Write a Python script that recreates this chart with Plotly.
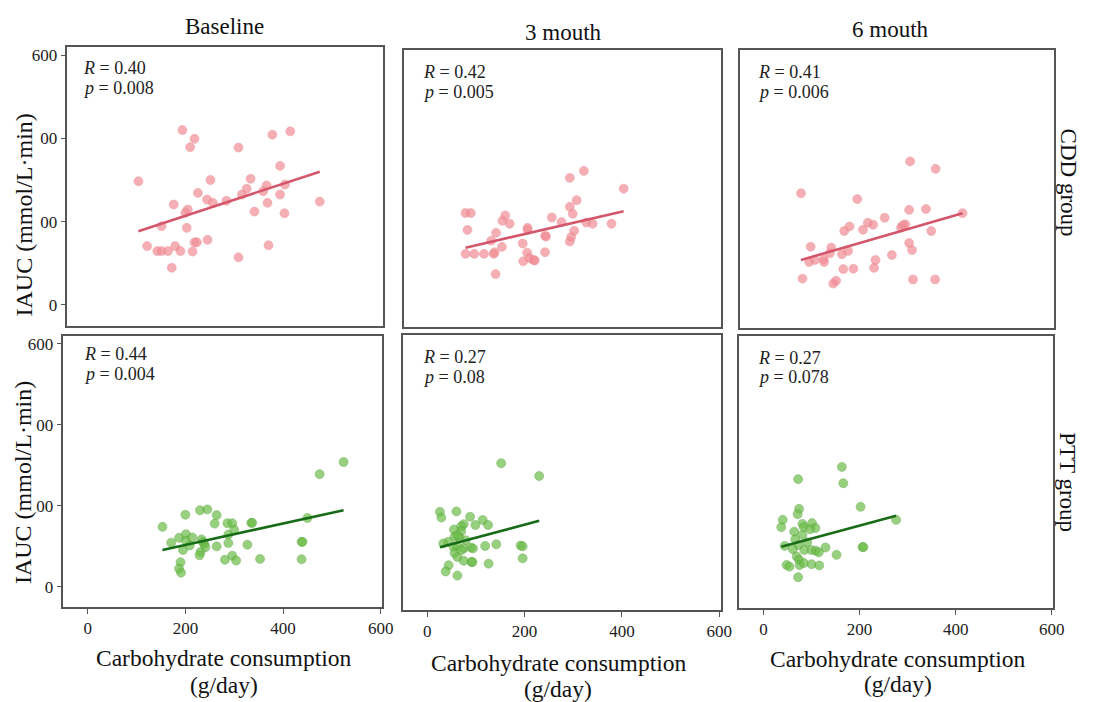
import plotly.graph_objects as go

W, H = 1093, 702

# ---------------- data ----------------
col_titles = ["Baseline", "3 mouth", "6 mouth"]
row_titles = ["CDD group", "PTT group"]
y_title = "IAUC (mmol/L·min)"
x_title = "Carbohydrate consumption"
x_unit = "(g/day)"
x_ticks = [0, 200, 400, 600]
x_tick_labels = ["0", "200", "400", "600"]
y_ticks = [0, 200, 400, 600]
y_tick_labels = ["0", "00", "00", "600"]

cdd_base_x = [97, 188, 213, 204, 304, 374, 411, 390, 246, 329, 220, 321, 362, 400, 239, 251, 279, 311, 355, 390,
              472, 170, 199, 194, 364, 337, 399, 145, 197, 115, 136, 145, 158, 173, 184, 209, 213, 218, 240, 304,
              366, 166]
cdd_base_y = [297, 420, 399, 379, 378, 409, 417, 334, 300, 303, 269, 279, 287, 289, 253, 245, 250, 265, 273, 265,
              248, 241, 229, 221, 245, 224, 220, 189, 185, 141, 129, 129, 129, 141, 129, 128, 150, 150, 156, 114,
              143, 89]
cdd_base_fit_x = [97, 472]
cdd_base_fit_y = [177, 320]

cdd_3m_x = [77, 88, 81, 77, 95, 115, 135, 137, 139, 130, 140, 153, 159, 168, 152, 205, 205, 195, 204, 196,
            209, 217, 220, 241, 241, 243, 255, 275, 292, 321, 306, 292, 298, 301, 295, 292, 326, 339, 378, 403]
cdd_3m_y = [225, 225, 184, 126, 126, 126, 126, 130, 77, 158, 177, 206, 219, 199, 143, 189, 184, 151, 129, 108,
            116, 111, 110, 130, 170, 168, 214, 203, 310, 327, 256, 240, 223, 182, 167, 156, 202, 199, 199, 284]
cdd_3m_fit_x = [77, 403]
cdd_3m_fit_y = [141, 229]

cdd_6m_x = [76, 79, 96, 93, 105, 123, 124, 136, 139, 143, 149, 161, 164, 166, 177, 174, 185, 193, 205, 215,
            226, 228, 231, 250, 265, 284, 293, 288, 301, 303, 301, 307, 309, 336, 347, 356, 355, 412]
cdd_6m_y = [274, 68, 145, 108, 113, 115, 108, 129, 143, 56, 63, 127, 91, 183, 194, 135, 92, 260, 186, 203,
            198, 94, 113, 215, 125, 191, 199, 197, 234, 351, 154, 137, 66, 236, 183, 333, 66, 226]
cdd_6m_fit_x = [76, 412]
cdd_6m_fit_y = [113, 226]

ptt_base_x = [153, 171, 187, 200, 201, 201, 195, 190, 187, 191, 209, 214, 230, 245, 264, 260, 233, 239, 236, 231,
              229, 264, 286, 296, 288, 300, 288, 281, 296, 304, 327, 335, 337, 353, 438, 440, 438, 450, 475, 524,
              241]
ptt_base_y = [148, 109, 121, 178, 130, 114, 91, 61, 45, 35, 102, 122, 189, 191, 177, 156, 117, 106, 110, 86,
              78, 100, 157, 157, 129, 141, 108, 67, 77, 65, 104, 158, 158, 69, 111, 111, 68, 170, 278, 308,
              98]
ptt_base_fit_x = [153, 524]
ptt_base_fit_y = [91, 189]

ptt_3m_x = [26, 29, 60, 88, 114, 125, 99, 75, 70, 55, 70, 56, 66, 79, 43, 33, 54, 62, 75, 90,
            94, 119, 142, 192, 196, 196, 56, 62, 75, 91, 93, 126, 44, 38, 62, 152, 230, 70, 62]
ptt_3m_y = [189, 175, 190, 177, 169, 157, 157, 159, 154, 146, 142, 128, 126, 120, 116, 112, 104, 105, 100, 102,
            100, 106, 110, 107, 105, 76, 89, 79, 70, 67, 67, 63, 59, 44, 34, 307, 276, 96, 132]
ptt_3m_fit_x = [26, 230]
ptt_3m_fit_y = [103, 167]

ptt_6m_x = [40, 37, 44, 48, 54, 72, 74, 71, 64, 81, 84, 101, 108, 97, 81, 66, 91, 73, 61, 69,
            74, 75, 84, 85, 100, 116, 72, 100, 109, 115, 129, 152, 163, 166, 202, 206, 208, 276]
ptt_6m_y = [167, 149, 103, 56, 52, 267, 194, 181, 138, 157, 149, 159, 147, 144, 130, 119, 112, 105, 95, 77,
            69, 56, 61, 93, 58, 55, 26, 93, 91, 87, 99, 81, 297, 257, 199, 100, 100, 167]
ptt_6m_fit_x = [37, 276]
ptt_6m_fit_y = [101, 177]

r_values = ["0.40", "0.42", "0.41", "0.44", "0.27", "0.27"]
p_values = ["0.008", "0.005", "0.006", "0.004", "0.08", "0.078"]

# ---------------- layout geometry (pixel boxes) ----------------
boxes = [  # (left, right, top, bottom) in pixels
    (68, 387, 46, 325), (408, 728, 49, 326), (748, 1065, 49, 327),
    (64, 386, 335, 607), (407, 728, 334, 610), (747, 1064, 335, 608),
]
stat_pos = [(82, 67, 87), (425, 71, 91), (764, 71, 91),
            (83, 354, 374), (425, 357, 377), (764, 358, 377)]

panels = [
    (cdd_base_x, cdd_base_y, cdd_base_fit_x, cdd_base_fit_y),
    (cdd_3m_x, cdd_3m_y, cdd_3m_fit_x, cdd_3m_fit_y),
    (cdd_6m_x, cdd_6m_y, cdd_6m_fit_x, cdd_6m_fit_y),
    (ptt_base_x, ptt_base_y, ptt_base_fit_x, ptt_base_fit_y),
    (ptt_3m_x, ptt_3m_y, ptt_3m_fit_x, ptt_3m_fit_y),
    (ptt_6m_x, ptt_6m_y, ptt_6m_fit_x, ptt_6m_fit_y),
]

FONT = "Liberation Serif"
BORDER = "#555555"
pink_fill, pink_edge, pink_line = "#f28c94", "#e58089", "#d4566b"
green_fill, green_edge, green_line = "#6cbd48", "#4e9a30", "#186c18"

def px(x):
    return x / W

def py(y):
    return 1 - y / H

fig = go.Figure()
layout = {}
for i, ((xs, ys, fx, fy), (l, r, t, b)) in enumerate(zip(panels, boxes)):
    n = i + 1
    xa = "xaxis" if n == 1 else f"xaxis{n}"
    ya = "yaxis" if n == 1 else f"yaxis{n}"
    xref = "x" if n == 1 else f"x{n}"
    yref = "y" if n == 1 else f"y{n}"
    cdd = i < 3
    fill, edge, lc = (pink_fill, pink_edge, pink_line) if cdd else (green_fill, green_edge, green_line)
    fig.add_trace(go.Scatter(x=xs, y=ys, mode="markers", xaxis=xref, yaxis=yref,
                             marker=dict(size=9, color=fill, opacity=0.7,
                                         line=dict(color=edge, width=0.6)),
                             showlegend=False, hoverinfo="x+y"))
    fig.add_trace(go.Scatter(x=fx, y=fy, mode="lines", xaxis=xref, yaxis=yref,
                             line=dict(color=lc, width=2.6), showlegend=False))
    bottom_row = i >= 3
    left_col = i % 3 == 0
    layout[xa] = dict(domain=[px(l), px(r)], range=[-50, 603], anchor=yref,
                      showgrid=False, zeroline=False, showline=True, mirror=True,
                      linecolor=BORDER, linewidth=1.5,
                      ticks="outside" if bottom_row else "", ticklen=5, tickcolor=BORDER,
                      tickvals=x_ticks, ticktext=x_tick_labels, showticklabels=bottom_row,
                      tickfont=dict(family=FONT, size=17, color="#222"))
    layout[ya] = dict(domain=[py(b), py(t)], range=[-50, 620], anchor=xref,
                      showgrid=False, zeroline=False, showline=True, mirror=True,
                      linecolor=BORDER, linewidth=1.5,
                      ticks="outside" if left_col else "", ticklen=5, tickcolor=BORDER,
                      tickvals=y_ticks, ticktext=y_tick_labels, showticklabels=left_col,
                      tickfont=dict(family=FONT, size=17, color="#222"))

annotations = []
# R / p statistics
for i, (sx, ry, pyy) in enumerate(stat_pos):
    annotations.append(dict(x=px(sx), y=py(ry), xref="paper", yref="paper", xanchor="left", yanchor="middle",
                            text=f"<i>R</i> = {r_values[i]}", showarrow=False,
                            font=dict(family=FONT, size=18, color="#222")))
    annotations.append(dict(x=px(sx), y=py(pyy), xref="paper", yref="paper", xanchor="left", yanchor="middle",
                            text=f"<i>p</i> = {p_values[i]}", showarrow=False,
                            font=dict(family=FONT, size=18, color="#222")))
# column titles
for txt, (cx, cy) in zip(col_titles, [(227, 26), (569, 32), (900, 29)]):
    annotations.append(dict(x=px(cx), y=py(cy), xref="paper", yref="paper", xanchor="center", yanchor="middle",
                            text=txt, showarrow=False, font=dict(family=FONT, size=23, color="#111")))
# row titles (right side)
for txt, cy in zip(row_titles, [182, 482]):
    annotations.append(dict(x=px(1079), y=py(cy), xref="paper", yref="paper", xanchor="center", yanchor="middle",
                            text=txt, textangle=90, showarrow=False,
                            font=dict(family=FONT, size=23, color="#111")))
# y axis titles
for cy in [214, 482]:
    annotations.append(dict(x=px(24), y=py(cy), xref="paper", yref="paper", xanchor="center", yanchor="middle",
                            text=y_title, textangle=-90, showarrow=False,
                            font=dict(family=FONT, size=24, color="#111")))
# x axis titles
for cx, y1, y2 in [(226, 658, 685), (564, 663, 689), (907, 659, 684)]:
    annotations.append(dict(x=px(cx), y=py(y1), xref="paper", yref="paper", xanchor="center", yanchor="middle",
                            text=x_title, showarrow=False, font=dict(family=FONT, size=23.5, color="#111")))
    annotations.append(dict(x=px(cx), y=py(y2), xref="paper", yref="paper", xanchor="center", yanchor="middle",
                            text=x_unit, showarrow=False, font=dict(family=FONT, size=23.5, color="#111")))

fig.update_layout(width=W, height=H, margin=dict(l=0, r=0, t=0, b=0),
                  paper_bgcolor="white", plot_bgcolor="white",
                  annotations=annotations, showlegend=False, **layout)

fig.write_html("out.html", config={"displayModeBar": False},
               post_script="document.body.style.margin='0';document.body.style.overflow='hidden';")
